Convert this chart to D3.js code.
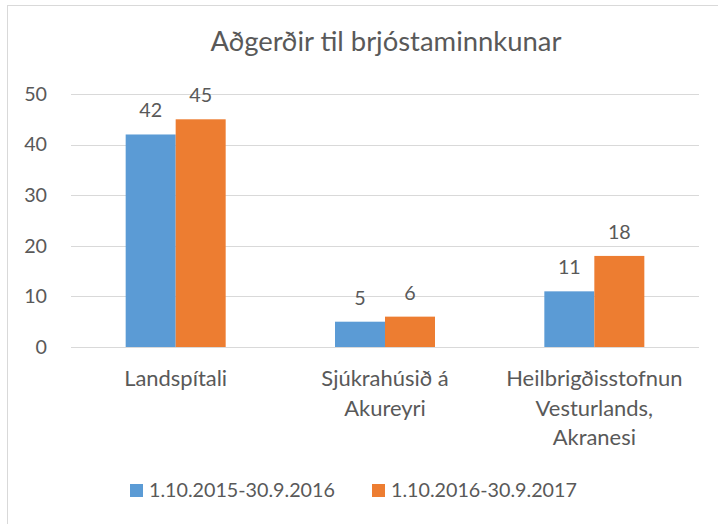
<!DOCTYPE html>
<html><head><meta charset="utf-8">
<script src="https://cdn.jsdelivr.net/npm/d3@7"></script>
<style>html,body{margin:0;padding:0;background:#fff;}</style>
</head><body>
<script>
const title = "Aðgerðir til brjóstaminnkunar";
const categories = ["Landspítali", "Sjúkrahúsið á Akureyri", "Heilbrigðisstofnun Vesturlands, Akranesi"];
const categoryLines = [["Landspítali"], ["Sjúkrahúsið á", "Akureyri"], ["Heilbrigðisstofnun", "Vesturlands,", "Akranesi"]];
const seriesNames = ["1.10.2015-30.9.2016", "1.10.2016-30.9.2017"];
const series2016 = [42, 5, 11];
const series2017 = [45, 6, 18];
const yTicks = [0, 10, 20, 30, 40, 50];
const colors = ["#5B9BD5", "#ED7D31"];

const W = 718, H = 524;
const FONT = "Lato, 'Open Sans', sans-serif";
const textColor = "#595959";
const svg = d3.select("body").append("svg").attr("width", W).attr("height", H)
  .style("font-family", FONT);

svg.append("rect").attr("x", 7.5).attr("y", 5.5).attr("width", W + 10).attr("height", H + 10)
  .attr("fill", "#fff").attr("stroke", "#D9D9D9").attr("stroke-width", 1);

function fit(sel, target) {
  const base = parseFloat(sel.attr("font-size"));
  const w = sel.node().getComputedTextLength();
  sel.attr("font-size", (base * target / w).toFixed(2));
  return base * target / w;
}

const plot = {left: 71, right: 699, top: 94, bottom: 347};
const y = d3.scaleLinear().domain([0, 50]).range([plot.bottom, plot.top]);
const x0 = d3.scaleBand().domain(categories).range([plot.left, plot.right]).padding(0);
const groupW = 100;
const x1 = d3.scaleBand().domain(seriesNames).range([0, groupW]).padding(0);

const t = svg.append("text").attr("x", (plot.left + plot.right) / 2 + 1).attr("y", 51)
  .attr("text-anchor", "middle").attr("fill", textColor).attr("font-size", 24).text(title);
fit(t, 351);

const probe = svg.append("text").attr("font-size", 20).text(seriesNames[0]);
const fs = fit(probe, 186);
probe.remove();
const probe2 = svg.append("text").attr("font-size", 20).text(categoryLines[0][0]);
const fsCat = fit(probe2, 103);
probe2.remove();

const grid = svg.append("g");
grid.selectAll("line").data(yTicks).join("line")
  .attr("x1", plot.left).attr("x2", plot.right)
  .attr("y1", d => Math.round(y(d)) + 0.5).attr("y2", d => Math.round(y(d)) + 0.5)
  .attr("stroke", "#D9D9D9").attr("stroke-width", 1.2);

const yAxis = svg.append("g").attr("transform", `translate(${plot.left},0)`)
  .call(d3.axisLeft(y).tickValues(yTicks).tickSize(0).tickPadding(24));
yAxis.select(".domain").remove();
yAxis.selectAll("text").attr("font-size", fs).attr("fill", textColor).attr("font-family", FONT);

const data = categories.map((c, i) => ({c, vals: [series2016[i], series2017[i]]}));
const groups = svg.append("g").selectAll("g").data(data).join("g")
  .attr("transform", d => `translate(${x0(d.c) + x0.bandwidth() / 2 - groupW / 2},0)`);
groups.selectAll("rect").data(d => d.vals.map((v, j) => ({v, s: seriesNames[j], j})))
  .join("rect")
  .attr("x", d => x1(d.s)).attr("width", x1.bandwidth())
  .attr("y", d => y(d.v)).attr("height", d => y(0) - y(d.v))
  .attr("fill", d => colors[d.j]);
groups.selectAll("text").data(d => d.vals.map((v, j) => ({v, s: seriesNames[j]})))
  .join("text")
  .attr("x", d => x1(d.s) + x1.bandwidth() / 2)
  .attr("y", d => y(d.v) - 17)
  .attr("text-anchor", "middle").attr("font-size", fs).attr("fill", textColor)
  .text(d => d.v);

const cat = svg.append("g");
categories.forEach((c, i) => {
  const tx = cat.append("text").attr("text-anchor", "middle").attr("font-size", fsCat)
    .attr("fill", textColor);
  categoryLines[i].forEach((line, k) => {
    tx.append("tspan").attr("x", x0(c) + x0.bandwidth() / 2).attr("y", 386 + k * 29.5).text(line);
  });
});

const legendX = [130, 372];
const lg = svg.append("g");
seriesNames.forEach((s, i) => {
  lg.append("rect").attr("x", legendX[i]).attr("y", 484).attr("width", 13).attr("height", 13)
    .attr("fill", colors[i]);
  lg.append("text").attr("x", legendX[i] + 19).attr("y", 497).attr("font-size", fs)
    .attr("fill", textColor).text(s);
});
</script>
</body></html>
